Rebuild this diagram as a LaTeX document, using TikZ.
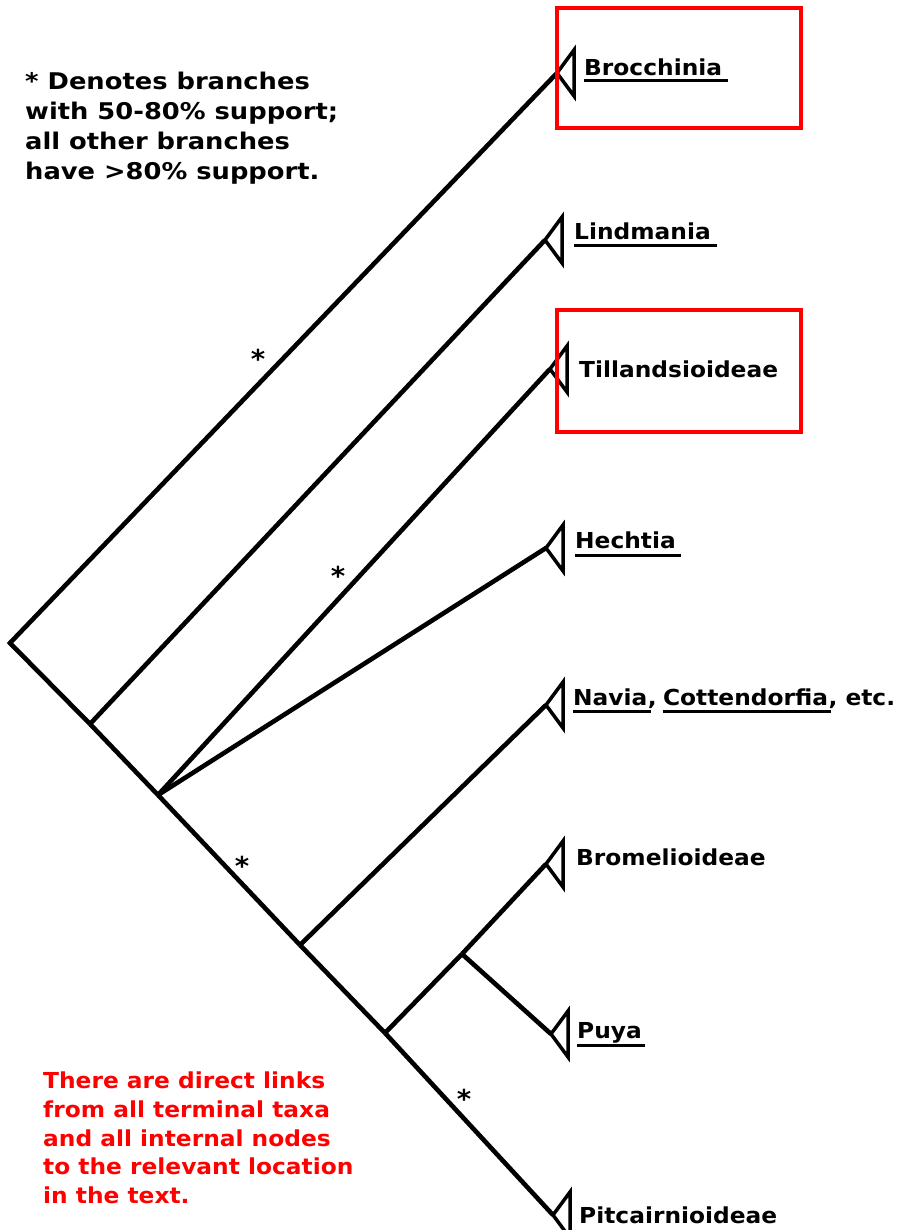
\documentclass[tikz,border=0pt]{standalone}
\usepackage{fontspec}
\setmainfont{DejaVu Sans}
\newfontfamily\lblfont{DejaVu Sans}[FakeStretch=1.06]
\newfontfamily\legfont{DejaVu Sans}[FakeStretch=1.12]
\definecolor{linkred}{RGB}{255,0,0}
\begin{document}
\begin{tikzpicture}[x=1pt,y=-1pt,
  branch/.style={line width=4.6pt,line join=miter},
  tri/.style={line width=3.5pt,line join=miter},
  lbl/.style={anchor=base west,inner sep=0pt,font=\lblfont\fontsize{22}{30}\selectfont\bfseries},
  ul/.style={line width=3pt},
  legend/.style={anchor=base west,inner sep=0pt,font=\legfont\fontsize{23}{30}\selectfont\bfseries},
  note/.style={lbl,text=linkred},
  star/.style={anchor=base,inner sep=0pt,font=\lblfont\fontsize{26}{30}\selectfont\bfseries},
  redbox/.style={draw=linkred,line width=4pt}]
\useasboundingbox (0,0) rectangle (899,1230);
% internal nodes
\coordinate (root) at (10,643);
\coordinate (A) at (90,724);
\coordinate (B) at (158,795);
\coordinate (C) at (300,945);
\coordinate (D) at (385,1033);
\coordinate (E) at (462,954);
% tips
\coordinate (broc) at (557,73);
\coordinate (lind) at (545,240);
\coordinate (till) at (550,369);
\coordinate (hech) at (546,548);
\coordinate (navi) at (546,705);
\coordinate (brom) at (546,864);
\coordinate (puya) at (551,1034);
\coordinate (pitc) at (553,1215);
% branches
\draw[branch] (broc) -- (root) -- (A);
\draw[branch] (A) -- (lind);
\draw[branch] (A) -- (B);
\draw[branch] (B) -- (till);
\draw[branch] (B) -- (hech);
\draw[branch] (B) -- (C);
\draw[branch] (C) -- (navi);
\draw[branch] (C) -- (D);
\draw[branch] (D) -- (E);
\draw[branch] (E) -- (brom);
\draw[branch] (E) -- (puya);
\draw[branch] (D) -- (pitc);
% triangles
\foreach \t in {broc,lind,till,hech,navi,brom,puya,pitc}
  \draw[tri] (\t) -- ++(17,-23) -- ++(0,46) -- cycle;
% labels
\node[lbl] (lbroc) at (584,76) {Brocchinia\kern6pt};
\draw[ul] ([yshift=-5pt]lbroc.base west) -- ([yshift=-5pt]lbroc.base east);
\node[lbl] (llind) at (574,240) {Lindmania\kern6pt};
\draw[ul] ([yshift=-6pt]llind.base west) -- ([yshift=-6pt]llind.base east);
\node[lbl] (ltill) at (579,377) {Tillandsioideae};
\node[lbl] (lhech) at (575,548) {Hechtia\kern5pt};
\draw[ul] ([yshift=-7pt]lhech.base west) -- ([yshift=-7pt]lhech.base east);
\node[lbl] (lnav1) at (573,705) {Navia};
\node[lbl] (lnav2) at (lnav1.base east) {,\kern6pt};
\node[lbl] (lnav3) at (lnav2.base east) {Cottendorfia};
\node[lbl] (lnav4) at (lnav3.base east) {, etc.};
\draw[ul] ([yshift=-6pt]lnav1.base west) -- ([yshift=-6pt,xshift=3pt]lnav1.base east);
\draw[ul] ([yshift=-6pt]lnav3.base west) -- ([yshift=-6pt,xshift=3pt]lnav3.base east);
\node[lbl] (lbrom) at (576,865) {Bromelioideae};
\node[lbl] (lpuya) at (577,1038) {Puya};
\draw[ul] ([yshift=-7pt]lpuya.base west) -- ([yshift=-7pt,xshift=3pt]lpuya.base east);
\node[lbl] (lpitc) at (579,1223) {Pitcairnioideae};
% stars
\node[star] (s1) at (258,368) {*};
\node[star] (s2) at (338,585) {*};
\node[star] (s3) at (242,875) {*};
\node[star] (s4) at (464,1108) {*};
% legend
\node[legend] (leg1) at (25,90) {* Denotes branches};
\node[legend] (leg2) at (25,120) {with 50-80\% support;};
\node[legend] (leg3) at (25,150) {all other branches};
\node[legend] (leg4) at (25,180) {have >80\% support.};
% note
\node[note] (n1) at (43,1088) {There are direct links};
\node[note] (n2) at (43,1117) {from all terminal taxa};
\node[note] (n3) at (43,1146) {and all internal nodes};
\node[note] (n4) at (43,1174) {to the relevant location};
\node[note] (n5) at (43,1203) {in the text.};
% highlight boxes
\draw[redbox] (557,8) rectangle (801,128);
\draw[redbox] (557,310) rectangle (801,432);
\end{tikzpicture}
\end{document}
